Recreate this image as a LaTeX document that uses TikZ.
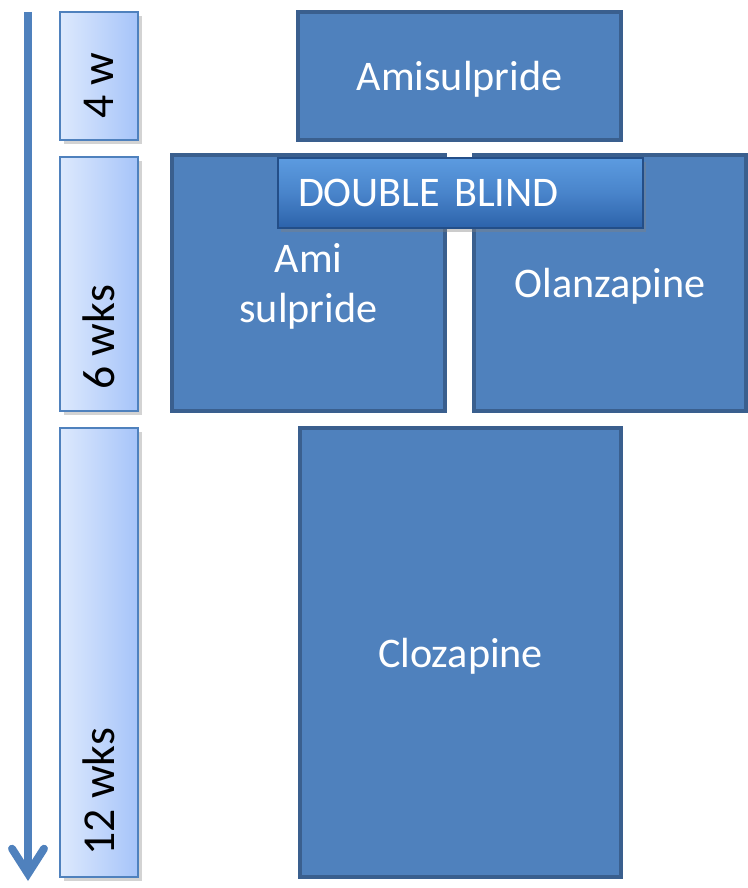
\documentclass[tikz,border=0pt]{standalone}
\usepackage{fontspec}
\setmainfont{Carlito}
\usetikzlibrary{positioning,arrows.meta,shadows}
\definecolor{armblue}{HTML}{4F81BD}
\definecolor{armline}{HTML}{3A5F8E}
\definecolor{weeklight}{HTML}{DDE9FD}
\definecolor{weekdark}{HTML}{A6C4F9}
\definecolor{blindtop}{HTML}{5C9BE0}
\definecolor{blindbot}{HTML}{2C62AA}
\tikzset{
  arm/.style={draw=armline, line width=1.8pt, fill=armblue, text=white,
    align=center, inner sep=0pt, text depth=0pt,
    font=\fontsize{24}{29}\selectfont},
  weekbox/.style={draw=armblue, line width=1pt, left color=weeklight,
    right color=weekdark, minimum width=1.56cm, inner sep=0pt,
    drop shadow={opacity=0.35, shadow xshift=2pt, shadow yshift=-2pt}},
  weeklabel/.style={rotate=90, inner sep=0pt, font=\fontsize{26}{30}\selectfont},
  blind/.style={draw=blindbot!80!black, line width=1pt, top color=blindtop,
    bottom color=blindbot, middle color=blindtop!60!blindbot, text=white,
    text width=6.5cm, align=left, inner xsep=0.4cm, minimum height=1.4cm,
    text depth=0pt, font=\fontsize{24}{28}\selectfont,
    drop shadow={opacity=0.4, shadow xshift=1.5pt, shadow yshift=-2pt}},
  timeline/.style={draw=armblue, line width=4.5pt,
    -{Straight Barb[length=5mm, width=6.4mm, line cap=round]}},
}
\begin{document}
\begin{tikzpicture}
\useasboundingbox (0,0) rectangle (14.96,-17.76);

% time axis
\coordinate (start) at (0.56,-0.24);
\coordinate (end) at (0.56,-17.62);
\draw[timeline] (start) -- (end);

% week boxes
\node[weekbox, minimum height=2.56cm] (w4) at (1.98,-1.52) {};
\node[weekbox, minimum height=5.08cm] (w6) at (1.98,-5.68) {};
\node[weekbox, minimum height=8.98cm] (w12) at (1.98,-13.05) {};
\node[weeklabel, above=4.4mm of w4.south, anchor=west] (l4) {4 w};
\node[weeklabel, above=4.4mm of w6.south, anchor=west] (l6) {6 wks};
\node[weeklabel, above=4.4mm of w12.south, anchor=west] (l12) {12 wks};

% treatment arms
\node[arm, minimum width=6.46cm, minimum height=2.56cm] (amisul) at (9.19,-1.52) {Amisulpride};
\node[arm, minimum width=5.46cm, minimum height=5.12cm] (ami) at (6.17,-5.66) {Ami\\sulpride};
\node[arm, minimum width=5.44cm, minimum height=5.12cm] (olan) at (12.2,-5.66) {Olanzapine};
\node[arm, minimum width=6.42cm, minimum height=8.98cm] (cloz) at (9.21,-13.05) {Clozapine};

% blinding banner
\node[blind] (dblind) at (9.21,-3.86) {DOUBLE BLIND};
\end{tikzpicture}
\end{document}
